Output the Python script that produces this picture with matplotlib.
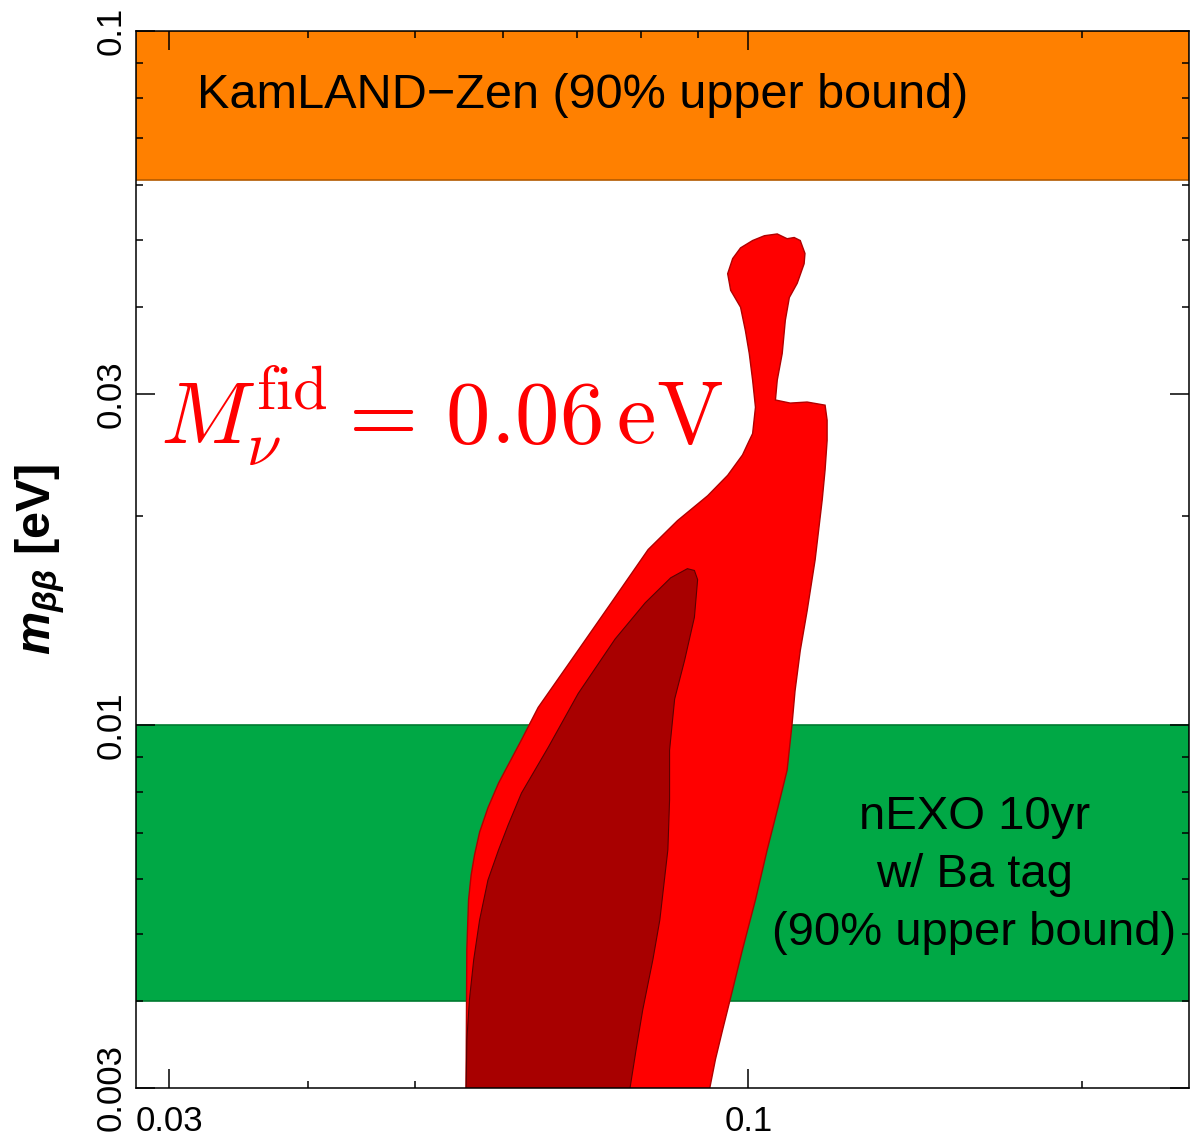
import matplotlib
matplotlib.use('Agg')
import matplotlib.pyplot as plt
from matplotlib.ticker import FixedLocator, FixedFormatter, NullFormatter

plt.rcParams['font.family'] = ['Liberation Sans', 'DejaVu Sans']
plt.rcParams['mathtext.fontset'] = 'custom'
plt.rcParams['mathtext.it'] = 'Liberation Sans:italic:bold'
plt.rcParams['mathtext.rm'] = 'Liberation Sans:bold'
plt.rcParams['mathtext.bf'] = 'Liberation Sans:bold'

# axis ranges and ticks
x_range = (0.028, 0.25)
y_range = (0.003, 0.1)
x_major = [0.03, 0.1]
x_major_labels = ['0.03', '0.1']
x_minor = [0.04, 0.05, 0.06, 0.07, 0.08, 0.09, 0.2]
y_major = [0.003, 0.01, 0.03, 0.1]
y_major_labels = ['0.003', '0.01', '0.03', '0.1']
y_minor = [0.004, 0.005, 0.006, 0.007, 0.008, 0.009, 0.02,
           0.04, 0.05, 0.06, 0.07, 0.08, 0.09]

# experimental bounds on m_bb (lower, upper)
kamland_band = (0.061, 0.1)
nexo_band = (0.004, 0.01)

# outer (bright red) allowed region
outer_x = [0.0556, 0.0557, 0.0559, 0.0562, 0.0566, 0.0572, 0.0582, 0.0595, 0.0624,
           0.0646, 0.0692, 0.0752, 0.0812, 0.0863, 0.0919, 0.0958, 0.0988,
           0.1002, 0.1009, 0.1015, 0.1009, 0.1002, 0.0994, 0.0984, 0.0964,
           0.0958, 0.0968, 0.0984, 0.1009, 0.1034, 0.1062, 0.1084, 0.1100,
           0.1114, 0.1125, 0.1123, 0.1107, 0.1089, 0.1080, 0.1073, 0.1062,
           0.1058, 0.1091, 0.1130, 0.1173, 0.1178, 0.1178, 0.1173, 0.1166,
           0.1149, 0.1130, 0.1114, 0.1102, 0.1095, 0.1084, 0.1062, 0.1040,
           0.1015, 0.0988, 0.0968, 0.0948, 0.0934, 0.0923, 0.0919]
outer_y = [0.0029, 0.00475, 0.00560, 0.00608, 0.00650, 0.00701, 0.00760, 0.00825, 0.00952,
           0.0106, 0.0124, 0.0150, 0.0179, 0.0197, 0.0214, 0.0229, 0.0245,
           0.0257, 0.0263, 0.0287, 0.0314, 0.0343, 0.0370, 0.0400, 0.0423,
           0.0447, 0.0470, 0.0487, 0.0499, 0.0507, 0.0510, 0.0502, 0.0504,
           0.0499, 0.0478, 0.0462, 0.0433, 0.0413, 0.0383, 0.0343, 0.0314,
           0.0294, 0.0291, 0.0292, 0.0289, 0.0275, 0.0257, 0.0233, 0.0211,
           0.0173, 0.0146, 0.0128, 0.0112, 0.0100, 0.00861, 0.00754, 0.00661,
           0.00560, 0.00475, 0.00416, 0.00364, 0.00330, 0.00300, 0.0029]

# inner (dark red) allowed region
inner_x = [0.0556, 0.0557, 0.0560, 0.0565, 0.0572, 0.0582, 0.0595, 0.0607, 0.0624,
           0.0660, 0.0702, 0.0758, 0.0807, 0.0851, 0.0881, 0.0894, 0.0900,
           0.0894, 0.0876, 0.0858, 0.0849, 0.0849, 0.0846, 0.0842, 0.0832,
           0.0820, 0.0803, 0.0792, 0.0782, 0.0780]
inner_y = [0.0029, 0.00352, 0.00402, 0.00459, 0.00524, 0.00598, 0.00661, 0.00718, 0.00798,
           0.00930, 0.0111, 0.0133, 0.0150, 0.0163, 0.0168, 0.0167, 0.0162,
           0.0143, 0.0124, 0.0109, 0.00920, 0.00780, 0.00661, 0.00619, 0.00524,
           0.00459, 0.00389, 0.00341, 0.00300, 0.0029]

fig = plt.figure(figsize=(11.9, 11.39), dpi=100)
ax = fig.add_axes([0.1143, 0.0448, 0.8849, 0.928])
ax.set_xscale('log')
ax.set_yscale('log')
ax.set_xlim(*x_range)
ax.set_ylim(*y_range)

ax.axhspan(*kamland_band, facecolor='#FF8000', edgecolor='#B35A00', linewidth=1.2, zorder=1)
ax.axhspan(*nexo_band, facecolor='#00A845', edgecolor='#007A30', linewidth=1.2, zorder=1)

ax.fill(outer_x, outer_y, facecolor='#FF0000', edgecolor='#B00000', linewidth=1.0, zorder=2)
ax.fill(inner_x, inner_y, facecolor='#A80000', edgecolor='#5A0000', linewidth=0.8, zorder=3)

ax.text(0.0318, 0.0806, 'KamLAND\u2212Zen (90% upper bound)', fontsize=35,
        ha='left', va='center', zorder=4)
ax.text(0.160, 0.00608, 'nEXO 10yr\nw/ Ba tag\n(90% upper bound)', fontsize=34,
        ha='center', va='center', multialignment='center', linespacing=1.4, zorder=4)
ax.text(0.02945, 0.0279, r'$M_\nu^{\rm fid} =\, 0.06\,{\rm eV}$', fontsize=64,
        color='red', math_fontfamily='cm', ha='left', va='center', zorder=4)

ax.xaxis.set_major_locator(FixedLocator(x_major))
ax.xaxis.set_major_formatter(FixedFormatter(x_major_labels))
ax.xaxis.set_minor_locator(FixedLocator(x_minor))
ax.xaxis.set_minor_formatter(NullFormatter())
ax.yaxis.set_major_locator(FixedLocator(y_major))
ax.yaxis.set_major_formatter(FixedFormatter(y_major_labels))
ax.yaxis.set_minor_locator(FixedLocator(y_minor))
ax.yaxis.set_minor_formatter(NullFormatter())

ax.tick_params(which='both', direction='in', top=True, right=True, width=1.1, zorder=5)
ax.tick_params(which='major', length=14, labelsize=25)
ax.tick_params(which='minor', length=5)
ax.tick_params(axis='x', which='major', pad=12)
ax.tick_params(axis='y', which='major', pad=6)
for lbl in ax.get_yticklabels():
    lbl.set_rotation(90)
    lbl.set_verticalalignment('center')

for sp in ax.spines.values():
    sp.set_linewidth(1.1)
    sp.set_zorder(6)

ax.set_ylabel(r'$m_{\beta\beta}$ [eV]', fontsize=35, fontweight='bold')
ax.yaxis.set_label_coords(-0.0655, 0.5)

fig.savefig('out.png', dpi=100)
